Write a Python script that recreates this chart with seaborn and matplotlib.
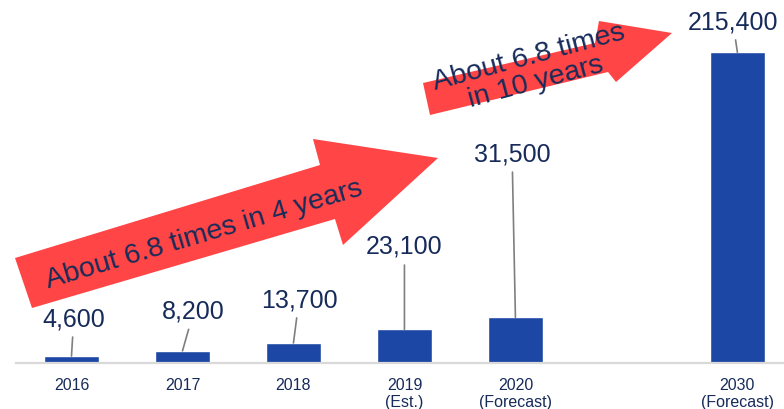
import matplotlib
matplotlib.use("Agg")
import matplotlib.pyplot as plt
import matplotlib.transforms as mtransforms
from matplotlib.patches import Polygon
import seaborn as sns

# data
years = ["2016", "2017", "2018", "2019\n(Est.)", "2020\n(Forecast)", "2030\n(Forecast)"]
positions = [0, 1, 2, 3, 4, 6]
values = [4600, 8200, 13700, 23100, 31500, 215400]

# where the value labels sit (x shift from bar, y in data units)
label_dx = [0.02, 0.1, 0.05, 0.0, -0.03, -0.04]
label_y = [30300, 35200, 43500, 80300, 144800, 236400]

navy = "#172B5A"
blue = "#1D47A5"
red = "#FF4545"

sns.set_theme(style="white")
plt.rcParams["font.family"] = ["Liberation Sans", "DejaVu Sans"]

W, H = 784, 409
fig = plt.figure(figsize=(W / 100, H / 100), dpi=100)
ax = fig.add_axes([16 / W, (H - 362.7) / H, 768 / W, 362.7 / H])

sns.barplot(x=positions, y=values, native_scale=True, width=0.5,
            color=blue, saturation=1, errorbar=None, ax=ax, zorder=2)

ax.set_xlim(-0.5, 6.42)
ax.set_ylim(0, 251700)
ax.set_xticks(positions)
ax.set_xticklabels(years, fontsize=11.5, color=navy, linespacing=1.15)
ax.tick_params(axis="x", length=0, pad=11)
ax.set_yticks([])
ax.set_xlabel("")
ax.set_ylabel("")
for s in ["top", "left", "right"]:
    ax.spines[s].set_visible(False)
ax.spines["bottom"].set_color("#d9d9d9")
ax.spines["bottom"].set_linewidth(1.6)

# value labels with leader lines
for p, v, dx, ly in zip(positions, values, label_dx, label_y):
    ax.annotate(f"{v:,}", xy=(p, v), xytext=(p + dx, ly),
                ha="center", va="center", fontsize=18, color=navy, zorder=5,
                arrowprops=dict(arrowstyle="-", color="#7f7f7f", lw=1.2,
                                patchA=None, shrinkA=13, shrinkB=0))

# big red arrows, drawn in pixel space (origin top-left)
px = mtransforms.Affine2D().scale(1 / W, -1 / H).translate(0, 1) + fig.transFigure
arrow1 = [(15, 258), (320, 165), (313, 139), (438, 158), (343, 245), (335, 219), (32, 308)]
arrow2 = [(423, 83), (595, 43), (599, 21), (672, 33), (616, 82), (608, 72), (430, 115)]
for pts in (arrow1, arrow2):
    ax.add_patch(Polygon(pts, closed=True, facecolor=red, edgecolor="none",
                         transform=px, clip_on=False, zorder=3))

ax.text(204, 235, "About 6.8 times in 4 years", transform=px, rotation=16.5,
        rotation_mode="anchor", ha="center", va="center", fontsize=20.5,
        color=navy, zorder=4)
ax.text(532, 70, "About 6.8 times\nin 10 years", transform=px, rotation=15,
        rotation_mode="anchor", ha="center", va="center", fontsize=20.5,
        color=navy, linespacing=1.0, zorder=4)

fig.savefig("out.png", dpi=100)
